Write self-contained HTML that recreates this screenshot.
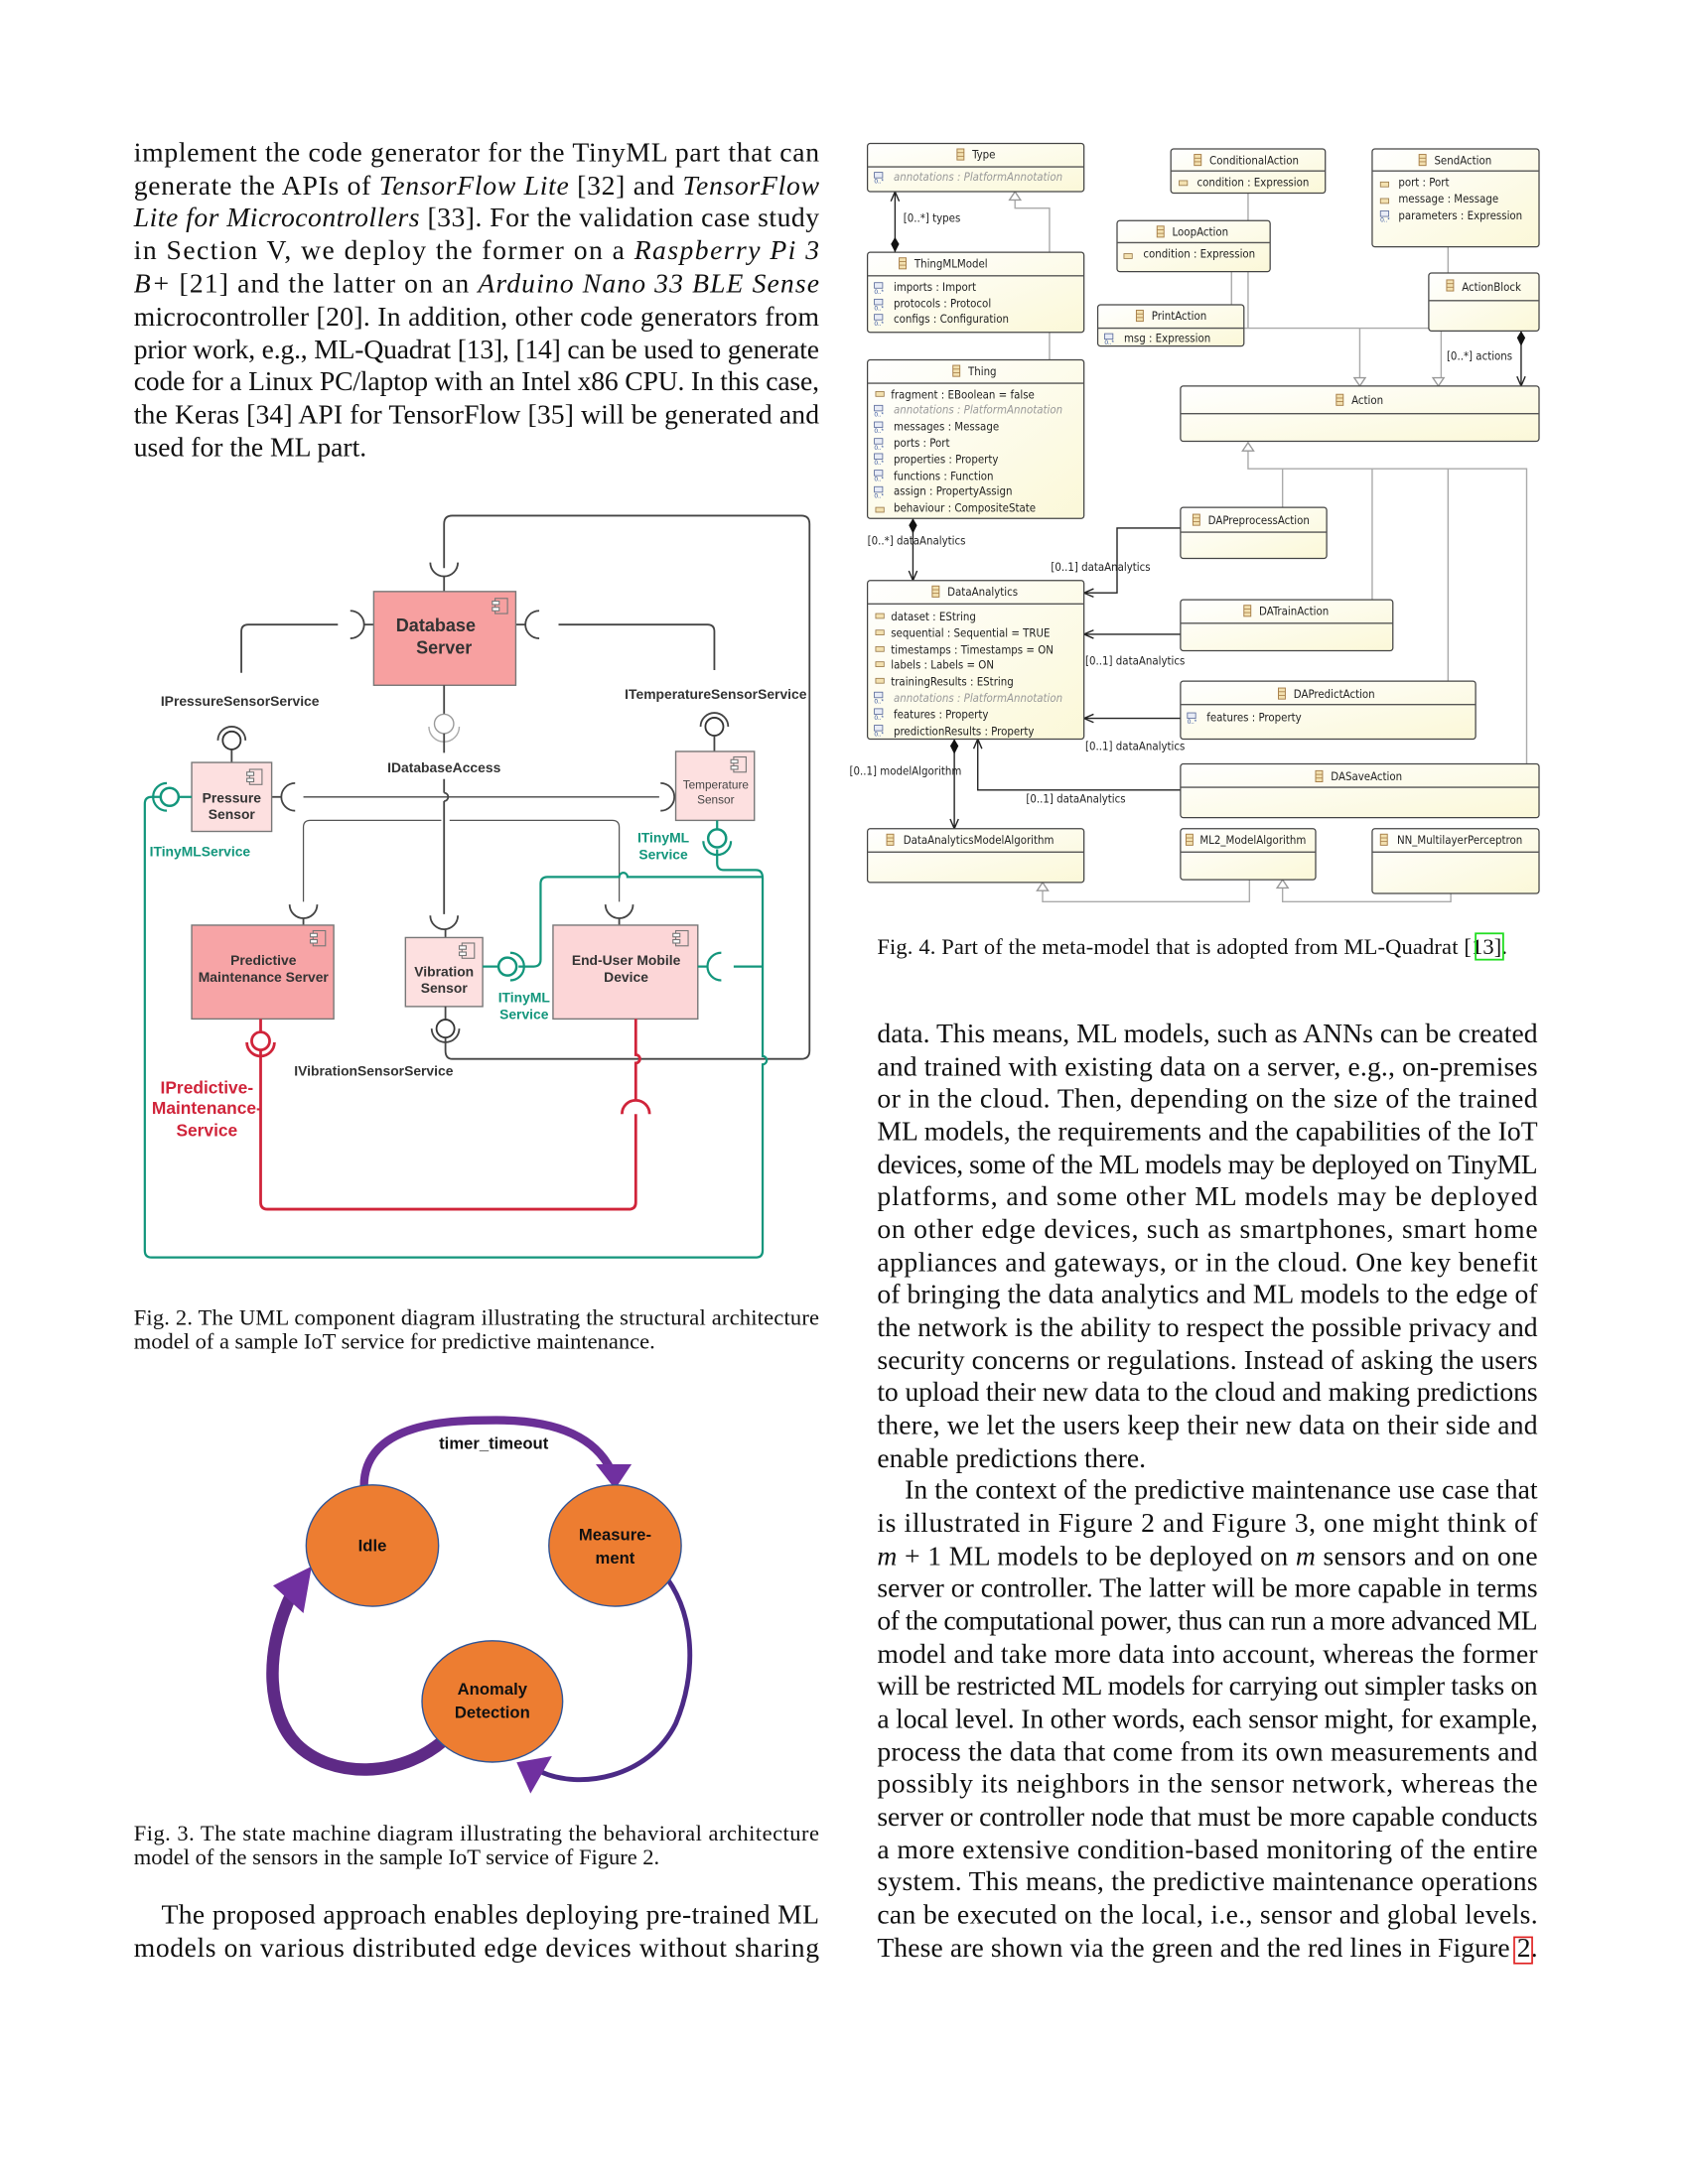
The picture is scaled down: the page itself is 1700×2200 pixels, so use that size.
<!DOCTYPE html>
<html><head><meta charset="utf-8"><style>
html,body{margin:0;padding:0;background:#fff}
svg{display:block}
.b{font-family:"Liberation Serif",serif;font-size:19.9px;fill:#111}
.c{font-family:"Liberation Serif",serif;font-size:16.2px;fill:#111}
.s{font-family:"Liberation Sans",sans-serif}
.cb{fill:url(#g);stroke:#444;stroke-width:0.9}
.ct{font-family:"DejaVu Sans Condensed","Liberation Sans",sans-serif;font-size:8.2px;fill:#222}
.it{font-style:italic;fill:#999}
.gl{stroke:#aaa;stroke-width:1;fill:none}
.bl{stroke:#222;stroke-width:1;fill:none}
.k{stroke:#444;stroke-width:1.3;fill:none}
.t{stroke:#13967c;stroke-width:1.6;fill:none}
.r{stroke:#d0243a;stroke-width:2;fill:none}
.lab{font-family:"Liberation Sans",sans-serif;font-weight:bold;font-size:10px;fill:#333}
.tl{font-family:"Liberation Sans",sans-serif;font-weight:bold;font-size:10px;fill:#13967c}
</style></head><body>
<svg width="1700" height="2200" viewBox="0 0 1224 1584" xmlns="http://www.w3.org/2000/svg">
<defs>
<linearGradient id="g" x1="0" y1="0" x2="1" y2="1"><stop offset="0" stop-color="#ffffff"/><stop offset="1" stop-color="#fbf8d8"/></linearGradient>
<g id="ic"><rect x="0" y="0" width="5" height="8" fill="#f3e1b0" stroke="#a8804a" stroke-width="0.7"/><line x1="0" y1="2.7" x2="5" y2="2.7" stroke="#a8804a" stroke-width="0.6"/><line x1="0" y1="5.3" x2="5" y2="5.3" stroke="#a8804a" stroke-width="0.6"/></g>
<g id="cp"><rect x="2" y="0" width="9" height="11" fill="none" stroke="#777" stroke-width="0.8"/><rect x="0" y="2" width="5" height="2.5" fill="#fff" stroke="#777" stroke-width="0.8"/><rect x="0" y="6.5" width="5" height="2.5" fill="#fff" stroke="#777" stroke-width="0.8"/></g>
<g id="at"><rect x="0" y="-5" width="6" height="3.5" fill="#f3e1b0" stroke="#9a7a4a" stroke-width="0.6"/></g>
<g id="am"><rect x="0" y="-7" width="6" height="4" fill="#e8ecf6" stroke="#5a6a9a" stroke-width="0.6"/><text x="0" y="1" font-size="4.5" fill="#2a4a9a" font-family="Liberation Sans">0..*</text></g>
</defs>

<!-- LEFT COLUMN TEXT -->
<g class="b">
<text x="97" y="117" textLength="497" lengthAdjust="spacing">implement the code generator for the TinyML part that can</text>
<text x="97" y="141" textLength="497" lengthAdjust="spacing">generate the APIs of <tspan font-style="italic">TensorFlow Lite</tspan> [32] and <tspan font-style="italic">TensorFlow</tspan></text>
<text x="97" y="164" textLength="497" lengthAdjust="spacing"><tspan font-style="italic">Lite for Microcontrollers</tspan> [33]. For the validation case study</text>
<text x="97" y="188" textLength="497" lengthAdjust="spacing">in Section V, we deploy the former on a <tspan font-style="italic">Raspberry Pi 3</tspan></text>
<text x="97" y="212" textLength="497" lengthAdjust="spacing"><tspan font-style="italic">B+</tspan> [21] and the latter on an <tspan font-style="italic">Arduino Nano 33 BLE Sense</tspan></text>
<text x="97" y="236" textLength="497" lengthAdjust="spacing">microcontroller [20]. In addition, other code generators from</text>
<text x="97" y="260" textLength="497" lengthAdjust="spacing">prior work, e.g., ML-Quadrat [13], [14] can be used to generate</text>
<text x="97" y="283" textLength="497" lengthAdjust="spacing">code for a Linux PC/laptop with an Intel x86 CPU. In this case,</text>
<text x="97" y="307" textLength="497" lengthAdjust="spacing">the Keras [34] API for TensorFlow [35] will be generated and</text>
<text x="97" y="331">used for the ML part.</text>
<text x="117" y="1395" textLength="477" lengthAdjust="spacing">The proposed approach enables deploying pre-trained ML</text>
<text x="97" y="1419" textLength="497" lengthAdjust="spacing">models on various distributed edge devices without sharing</text>
</g>
<g class="c">
<text x="97" y="961" textLength="497" lengthAdjust="spacing">Fig. 2.   The UML component diagram illustrating the structural architecture</text>
<text x="97" y="978">model of a sample IoT service for predictive maintenance.</text>
<text x="97" y="1335" textLength="497" lengthAdjust="spacing">Fig. 3.   The state machine diagram illustrating the behavioral architecture</text>
<text x="97" y="1352">model of the sensors in the sample IoT service of Figure 2.</text>
<text x="636" y="692" textLength="457" lengthAdjust="spacing">Fig. 4.   Part of the meta-model that is adopted from ML-Quadrat [13].</text>
</g>
<rect x="1070" y="677" width="20" height="19" fill="none" stroke="#22dd22" stroke-width="1.3"/>

<!-- RIGHT COLUMN TEXT -->
<g class="b">
<text x="636" y="756" textLength="479" lengthAdjust="spacing">data. This means, ML models, such as ANNs can be created</text>
<text x="636" y="780" textLength="479" lengthAdjust="spacing">and trained with existing data on a server, e.g., on-premises</text>
<text x="636" y="803" textLength="479" lengthAdjust="spacing">or in the cloud. Then, depending on the size of the trained</text>
<text x="636" y="827" textLength="479" lengthAdjust="spacing">ML models, the requirements and the capabilities of the IoT</text>
<text x="636" y="851" textLength="479" lengthAdjust="spacing">devices, some of the ML models may be deployed on TinyML</text>
<text x="636" y="874" textLength="479" lengthAdjust="spacing">platforms, and some other ML models may be deployed</text>
<text x="636" y="898" textLength="479" lengthAdjust="spacing">on other edge devices, such as smartphones, smart home</text>
<text x="636" y="922" textLength="479" lengthAdjust="spacing">appliances and gateways, or in the cloud. One key benefit</text>
<text x="636" y="945" textLength="479" lengthAdjust="spacing">of bringing the data analytics and ML models to the edge of</text>
<text x="636" y="969" textLength="479" lengthAdjust="spacing">the network is the ability to respect the possible privacy and</text>
<text x="636" y="993" textLength="479" lengthAdjust="spacing">security concerns or regulations. Instead of asking the users</text>
<text x="636" y="1016" textLength="479" lengthAdjust="spacing">to upload their new data to the cloud and making predictions</text>
<text x="636" y="1040" textLength="479" lengthAdjust="spacing">there, we let the users keep their new data on their side and</text>
<text x="636" y="1064">enable predictions there.</text>
<text x="656" y="1087" textLength="459" lengthAdjust="spacing">In the context of the predictive maintenance use case that</text>
<text x="636" y="1111" textLength="479" lengthAdjust="spacing">is illustrated in Figure 2 and Figure 3, one might think of</text>
<text x="636" y="1135" textLength="479" lengthAdjust="spacing"><tspan font-style="italic">m</tspan> + 1 ML models to be deployed on <tspan font-style="italic">m</tspan> sensors and on one</text>
<text x="636" y="1158" textLength="479" lengthAdjust="spacing">server or controller. The latter will be more capable in terms</text>
<text x="636" y="1182" textLength="479" lengthAdjust="spacing">of the computational power, thus can run a more advanced ML</text>
<text x="636" y="1206" textLength="479" lengthAdjust="spacing">model and take more data into account, whereas the former</text>
<text x="636" y="1229" textLength="479" lengthAdjust="spacing">will be restricted ML models for carrying out simpler tasks on</text>
<text x="636" y="1253" textLength="479" lengthAdjust="spacing">a local level. In other words, each sensor might, for example,</text>
<text x="636" y="1277" textLength="479" lengthAdjust="spacing">process the data that come from its own measurements and</text>
<text x="636" y="1300" textLength="479" lengthAdjust="spacing">possibly its neighbors in the sensor network, whereas the</text>
<text x="636" y="1324" textLength="479" lengthAdjust="spacing">server or controller node that must be more capable conducts</text>
<text x="636" y="1348" textLength="479" lengthAdjust="spacing">a more extensive condition-based monitoring of the entire</text>
<text x="636" y="1371" textLength="479" lengthAdjust="spacing">system. This means, the predictive maintenance operations</text>
<text x="636" y="1395" textLength="479" lengthAdjust="spacing">can be executed on the local, i.e., sensor and global levels.</text>
<text x="636" y="1419" textLength="479" lengthAdjust="spacing">These are shown via the green and the red lines in Figure 2.</text>
</g>
<rect x="1098" y="1405" width="13" height="19" fill="none" stroke="#e02020" stroke-width="1.2"/>

<!-- FIG 2 -->
<path class="k" d="M322,412 V380 Q322,374 328,374 H581 Q587,374 587,380 V762 Q587,768 581,768 H328 Q323,768 323,762 V753"/>
<path class="k" d="M312,408 A10,10 0 0 0 332,408"/>
<line class="k" x1="322" y1="418" x2="322" y2="429"/>
<path class="k" d="M245,453 H180 Q175,453 175,458 V488"/>
<path class="k" d="M254,443 A10,10 0 0 1 254,463"/><line class="k" x1="264" y1="453" x2="271" y2="453"/>
<path class="k" d="M405,453 H513 Q518,453 518,458 V486"/>
<path class="k" d="M391,443 A10,10 0 0 0 391,463"/><line class="k" x1="374" y1="453" x2="381" y2="453"/>
<rect x="271" y="429" width="103" height="68" fill="#f7a0a0" stroke="#777" stroke-width="1"/>
<use href="#cp" x="357" y="434"/>
<text class="s" x="316" y="458" font-size="13" font-weight="bold" fill="#333" text-anchor="middle">Database</text>
<text class="s" x="322" y="474" font-size="13" font-weight="bold" fill="#333" text-anchor="middle">Server</text>
<line class="k" x1="322" y1="497" x2="322" y2="518"/>
<circle cx="322" cy="525" r="7" fill="#fff" stroke="#999" stroke-width="1"/>
<path d="M311,527 A11,11 0 0 0 333,527" fill="none" stroke="#aaa" stroke-width="1"/>
<line class="k" x1="322" y1="532" x2="322" y2="546"/>
<text class="lab" x="322" y="560" text-anchor="middle">IDatabaseAccess</text>
<line class="k" x1="322" y1="565" x2="322" y2="575"/>
<path class="k" d="M322,575 A3,3 0 0 1 322,581"/>
<line class="k" x1="322" y1="581" x2="322" y2="663"/>
<path class="k" d="M312,664 A10,10 0 0 0 332,664"/><line class="k" x1="323" y1="674" x2="323" y2="680"/>
<line stroke="#444" stroke-width="1" x1="220" y1="578" x2="478" y2="578"/>
<path class="k" d="M214,568 A10,10 0 0 0 214,588"/><line class="k" x1="197" y1="578" x2="204" y2="578"/>
<path class="k" d="M479,568 A10,10 0 0 1 479,588"/><line class="k" x1="489" y1="578" x2="490" y2="578"/>
<path stroke="#555" stroke-width="0.9" fill="none" d="M220,654 V600 Q220,595 225,595 H320 M326,595 H444 Q449,595 449,600 V654"/>
<path class="k" d="M210,656 A10,10 0 0 0 230,656"/><line class="k" x1="220" y1="666" x2="220" y2="671"/>
<path class="k" d="M439,656 A10,10 0 0 0 459,656"/><line class="k" x1="449" y1="666" x2="449" y2="671"/>
<text class="lab" x="174" y="512" text-anchor="middle">IPressureSensorService</text>
<text class="lab" x="519" y="507" text-anchor="middle">ITemperatureSensorService</text>
<line class="k" x1="168" y1="544" x2="168" y2="553"/>
<circle cx="168" cy="537" r="6.5" fill="#fff" stroke="#333" stroke-width="1.3"/>
<path class="k" d="M158,537 A10,10 0 0 1 178,537"/>
<line class="k" x1="518" y1="534" x2="518" y2="545"/>
<circle cx="518" cy="527" r="6.5" fill="#fff" stroke="#333" stroke-width="1.3"/>
<path class="k" d="M508,527 A10,10 0 0 1 528,527"/>
<rect x="139" y="553" width="58" height="50" fill="#fde0e0" stroke="#777" stroke-width="1"/>
<use href="#cp" x="179" y="558"/>
<text class="s" x="168" y="582" font-size="10" font-weight="bold" fill="#333" text-anchor="middle">Pressure</text>
<text class="s" x="168" y="594" font-size="10" font-weight="bold" fill="#333" text-anchor="middle">Sensor</text>
<rect x="490" y="545" width="57" height="50" fill="#fde0e0" stroke="#777" stroke-width="1"/>
<use href="#cp" x="530" y="549"/>
<text class="s" x="519" y="572" font-size="8.5" fill="#444" text-anchor="middle">Temperature</text>
<text class="s" x="519" y="583" font-size="8.5" fill="#444" text-anchor="middle">Sensor</text>
<rect x="139" y="671" width="103" height="68" fill="#f7a4a6" stroke="#777" stroke-width="1"/>
<use href="#cp" x="225" y="675"/>
<text class="s" x="191" y="700" font-size="10" font-weight="bold" fill="#333" text-anchor="middle">Predictive</text>
<text class="s" x="191" y="712" font-size="10" font-weight="bold" fill="#333" text-anchor="middle">Maintenance Server</text>
<rect x="294" y="680" width="56" height="50" fill="#fde0e0" stroke="#777" stroke-width="1"/>
<use href="#cp" x="333" y="684"/>
<text class="s" x="322" y="708" font-size="10" font-weight="bold" fill="#333" text-anchor="middle">Vibration</text>
<text class="s" x="322" y="720" font-size="10" font-weight="bold" fill="#333" text-anchor="middle">Sensor</text>
<rect x="401" y="671" width="105" height="68" fill="#fcd6d7" stroke="#777" stroke-width="1"/>
<use href="#cp" x="488" y="675"/>
<text class="s" x="454" y="700" font-size="10" font-weight="bold" fill="#333" text-anchor="middle">End-User Mobile</text>
<text class="s" x="454" y="712" font-size="10" font-weight="bold" fill="#333" text-anchor="middle">Device</text>
<line class="k" x1="323" y1="730" x2="323" y2="739"/>
<circle cx="323" cy="746" r="6.5" fill="#fff" stroke="#333" stroke-width="1.3"/>
<path class="k" d="M313,746 A10,10 0 0 0 333,746"/>
<text class="lab" x="271" y="780" text-anchor="middle">IVibrationSensorService</text>
<path class="t" d="M116,578 H110 Q105,578 105,583 V907 Q105,912 110,912 H548 Q553,912 553,907 V772 A3,3 0 0 0 553,766 V637 Q553,631 548,631 H525 Q520,631 520,626 V616"/>
<circle cx="520" cy="608" r="6.5" fill="#fff" stroke="#13967c" stroke-width="1.8"/>
<path class="t" d="M510,610 A10,10 0 0 0 530,610"/>
<line class="t" x1="520" y1="595" x2="520" y2="601"/>
<circle cx="123" cy="578" r="6.5" fill="#fff" stroke="#13967c" stroke-width="1.8"/>
<path class="t" d="M121,568 A10,10 0 0 0 121,588"/>
<line class="t" x1="130" y1="578" x2="139" y2="578"/>
<path class="t" d="M553,636 H455 A3,3 0 0 0 449,636 H397 Q392,636 392,641 V696 Q392,701 387,701 H376"/>
<circle cx="368" cy="701" r="6.5" fill="#fff" stroke="#13967c" stroke-width="1.8"/>
<path class="t" d="M370,691 A10,10 0 0 1 370,711"/>
<line class="t" x1="350" y1="701" x2="361" y2="701"/>
<path class="t" d="M523,691 A10,10 0 0 0 523,711"/>
<line class="t" x1="506" y1="701" x2="513" y2="701"/>
<line class="t" x1="532" y1="701" x2="553" y2="701"/>
<text class="tl" x="145" y="621" text-anchor="middle">ITinyMLService</text>
<text class="tl" x="481" y="611" text-anchor="middle">ITinyML</text>
<text class="tl" x="481" y="623" text-anchor="middle">Service</text>
<text class="tl" x="380" y="727" text-anchor="middle">ITinyML</text>
<text class="tl" x="380" y="739" text-anchor="middle">Service</text>
<line class="r" x1="189" y1="739" x2="189" y2="748"/>
<circle cx="189" cy="755" r="6.5" fill="#fff" stroke="#d0243a" stroke-width="2"/>
<path class="r" d="M179,756 A10,10 0 0 0 199,756"/>
<path class="r" d="M189,762 V872 Q189,877 194,877 H456 Q461,877 461,872 V808"/>
<path class="r" d="M451,808 A10,10 0 0 1 471,808"/>
<path class="r" d="M461,739 V765 A3,3 0 0 1 461,771 V798"/>
<g font-family="Liberation Sans,sans-serif" font-weight="bold" font-size="12.5" fill="#d0243a" text-anchor="middle">
<text x="150" y="793">IPredictive-</text><text x="150" y="808">Maintenance-</text><text x="150" y="824">Service</text></g>

<!-- FIG 3 -->
<path d="M264,1080 C262,1030 330,1030 360,1030 C400,1030 430,1040 443,1066" fill="none" stroke="#6a2f96" stroke-width="6"/>
<polygon points="432,1062 458,1062 446,1080" fill="#7030a0"/>
<path d="M480,1140 C505,1170 505,1215 490,1250 C470,1290 420,1298 392,1285" fill="none" stroke="#4b2a86" stroke-width="3.5"/>
<polygon points="376,1276 402,1276 382,1300" fill="#7030a0" transform="rotate(-10 388 1285)"/>
<path d="M322,1262 C290,1290 240,1290 215,1265 C195,1245 190,1200 212,1155" fill="none" stroke="#5e2a86" stroke-width="9"/>
<polygon points="226,1136 198,1150 220,1170" fill="#7030a0"/>
<g stroke="#2f5597" stroke-width="1" fill="#ed7d31">
<ellipse cx="270" cy="1121" rx="48" ry="44"/>
<ellipse cx="446" cy="1121" rx="48" ry="44"/>
<ellipse cx="357" cy="1234" rx="51" ry="44"/>
</g>
<g font-family="Liberation Sans,sans-serif" font-weight="bold" font-size="12" fill="#111" text-anchor="middle">
<text x="358" y="1051">timer_timeout</text>
<text x="270" y="1125">Idle</text>
<text x="446" y="1117">Measure-</text><text x="446" y="1134">ment</text>
<text x="357" y="1229">Anomaly</text><text x="357" y="1246">Detection</text>
</g>

<!-- FIG 4 connectors -->
<g>
<path class="bl" d="M649,139 V183"/><path class="bl" d="M646,146 L649,139 L652,146"/>
<polygon points="649,172 652,177 649,183 646,177" fill="#111"/>
<text class="ct" x="655" y="161">[0..*] types</text>
<path class="gl" d="M761,261 V151 H736 V145"/><polygon points="732,145 740,145 736,139" fill="#fff" stroke="#999"/>
<path class="gl" d="M905,140 V238 M1050,179 V238 M893,197 V238 M902,238 H1050 M986,238 V274 M1045,240 V274"/>
<polygon points="982,274 990,274 986,280" fill="#fff" stroke="#999"/>
<polygon points="1039,274 1047,274 1043,280" fill="#fff" stroke="#999"/>
<path class="bl" d="M1103,240 V280"/><polygon points="1103,240 1106,245 1103,251 1100,245" fill="#111"/>
<path class="bl" d="M1100,273 L1103,280 L1106,273"/>
<text class="ct" x="1049" y="261">[0..*] actions</text>
<path class="gl" d="M905,326 V340 H1107 V554 M930,340 V368 M995,340 V435 M1050,340 V494"/>
<polygon points="901,327 909,327 905,321" fill="#fff" stroke="#999"/>
<path class="bl" d="M662,376 V421"/><polygon points="662,376 665,381 662,387 659,381" fill="#111"/>
<path class="bl" d="M659,414 L662,421 L665,414"/>
<text class="ct" x="629" y="395">[0..*] dataAnalytics</text>
<path class="bl" d="M856,383 H810 V430 H786 M793,427 L786,430 L793,433"/>
<text class="ct" x="762" y="414">[0..1] dataAnalytics</text>
<path class="bl" d="M856,460 H786 M793,457 L786,460 L793,463"/>
<text class="ct" x="787" y="482">[0..1] dataAnalytics</text>
<path class="bl" d="M856,521 H786 M793,518 L786,521 L793,524"/>
<text class="ct" x="787" y="544">[0..1] dataAnalytics</text>
<path class="bl" d="M856,573 H709 V536 M706,543 L709,536 L712,543"/>
<text class="ct" x="744" y="582">[0..1] dataAnalytics</text>
<path class="bl" d="M692,536 V601 M689,594 L692,601 L695,594"/><polygon points="692,536 695,541 692,547 689,541" fill="#111"/>
<text class="ct" x="616" y="562">[0..1] modelAlgorithm</text>
<path class="gl" d="M906,638 V654 H756 V646 M1052,648 V654 H930 V644"/>
<polygon points="752,646 760,646 756,640" fill="#fff" stroke="#999"/>
<polygon points="926,644 934,644 930,638" fill="#fff" stroke="#999"/>
</g>

<!-- FIG 4 boxes -->
<g class="ct">
<rect class="cb" x="629" y="104" width="157" height="35" rx="2"/><line x1="629" y1="121" x2="786" y2="121" stroke="#555"/>
<use href="#ic" x="694" y="108"/><text x="705" y="115">Type</text>
<use href="#am" x="634" y="132"/><text class="it" x="648" y="131">annotations : PlatformAnnotation</text>

<rect class="cb" x="849" y="108" width="112" height="32" rx="2"/><line x1="849" y1="124" x2="961" y2="124" stroke="#555"/>
<use href="#ic" x="866" y="112"/><text x="877" y="119">ConditionalAction</text>
<use href="#at" x="855" y="136"/><text x="868" y="135">condition : Expression</text>

<rect class="cb" x="995" y="108" width="121" height="71" rx="2"/><line x1="995" y1="124" x2="1116" y2="124" stroke="#555"/>
<use href="#ic" x="1029" y="112"/><text x="1040" y="119">SendAction</text>
<use href="#at" x="1001" y="137"/><text x="1014" y="135">port : Port</text>
<use href="#at" x="1001" y="149"/><text x="1014" y="147">message : Message</text>
<use href="#am" x="1001" y="160"/><text x="1014" y="159">parameters : Expression</text>

<rect class="cb" x="810" y="160" width="111" height="37" rx="2"/><line x1="810" y1="176" x2="921" y2="176" stroke="#555"/>
<use href="#ic" x="839" y="164"/><text x="850" y="171">LoopAction</text>
<use href="#at" x="815" y="189"/><text x="829" y="187">condition : Expression</text>

<rect class="cb" x="629" y="183" width="157" height="58" rx="2"/><line x1="629" y1="200" x2="786" y2="200" stroke="#555"/>
<use href="#ic" x="652" y="187"/><text x="663" y="194">ThingMLModel</text>
<use href="#am" x="634" y="212"/><text x="648" y="211">imports : Import</text>
<use href="#am" x="634" y="224"/><text x="648" y="223">protocols : Protocol</text>
<use href="#am" x="634" y="235"/><text x="648" y="234">configs : Configuration</text>

<rect class="cb" x="796" y="221" width="106" height="30" rx="2"/><line x1="796" y1="238" x2="902" y2="238" stroke="#555"/>
<use href="#ic" x="824" y="225"/><text x="835" y="232">PrintAction</text>
<use href="#am" x="801" y="249"/><text x="815" y="248">msg : Expression</text>

<rect class="cb" x="1036" y="198" width="80" height="42" rx="2"/><line x1="1036" y1="218" x2="1116" y2="218" stroke="#555"/>
<use href="#ic" x="1049" y="203"/><text x="1060" y="211">ActionBlock</text>

<rect class="cb" x="629" y="261" width="157" height="115" rx="2"/><line x1="629" y1="278" x2="786" y2="278" stroke="#555"/>
<use href="#ic" x="691" y="265"/><text x="702" y="272">Thing</text>
<rect x="635" y="284" width="6" height="3.5" fill="#f3e1b0" stroke="#9a7a4a" stroke-width="0.6"/><text x="646" y="289">fragment : EBoolean = false</text>
<use href="#am" x="634" y="301"/><text class="it" x="648" y="300">annotations : PlatformAnnotation</text>
<use href="#am" x="634" y="313"/><text x="648" y="312">messages : Message</text>
<use href="#am" x="634" y="325"/><text x="648" y="324">ports : Port</text>
<use href="#am" x="634" y="336"/><text x="648" y="336">properties : Property</text>
<use href="#am" x="634" y="348"/><text x="648" y="348">functions : Function</text>
<use href="#am" x="634" y="360"/><text x="648" y="359">assign : PropertyAssign</text>
<use href="#at" x="635" y="373"/><text x="648" y="371">behaviour : CompositeState</text>

<rect class="cb" x="856" y="280" width="260" height="40" rx="2"/><line x1="856" y1="300" x2="1116" y2="300" stroke="#555"/>
<use href="#ic" x="969" y="286"/><text x="980" y="293">Action</text>

<rect class="cb" x="856" y="368" width="106" height="37" rx="2"/><line x1="856" y1="386" x2="962" y2="386" stroke="#555"/>
<use href="#ic" x="865" y="373"/><text x="876" y="380">DAPreprocessAction</text>

<rect class="cb" x="629" y="421" width="157" height="115" rx="2"/><line x1="629" y1="438" x2="786" y2="438" stroke="#555"/>
<use href="#ic" x="676" y="425"/><text x="687" y="432">DataAnalytics</text>
<rect x="635" y="445" width="6" height="3.5" fill="#f3e1b0" stroke="#9a7a4a" stroke-width="0.6"/><text x="646" y="450">dataset : EString</text>
<rect x="635" y="457" width="6" height="3.5" fill="#f3e1b0" stroke="#9a7a4a" stroke-width="0.6"/><text x="646" y="462">sequential : Sequential = TRUE</text>
<rect x="635" y="469" width="6" height="3.5" fill="#f3e1b0" stroke="#9a7a4a" stroke-width="0.6"/><text x="646" y="474">timestamps : Timestamps = ON</text>
<rect x="635" y="480" width="6" height="3.5" fill="#f3e1b0" stroke="#9a7a4a" stroke-width="0.6"/><text x="646" y="485">labels : Labels = ON</text>
<rect x="635" y="492" width="6" height="3.5" fill="#f3e1b0" stroke="#9a7a4a" stroke-width="0.6"/><text x="646" y="497">trainingResults : EString</text>
<use href="#am" x="634" y="509"/><text class="it" x="648" y="509">annotations : PlatformAnnotation</text>
<use href="#am" x="634" y="521"/><text x="648" y="521">features : Property</text>
<use href="#am" x="634" y="533"/><text x="648" y="533">predictionResults : Property</text>

<rect class="cb" x="856" y="435" width="154" height="37" rx="2"/><line x1="856" y1="452" x2="1010" y2="452" stroke="#555"/>
<use href="#ic" x="902" y="439"/><text x="913" y="446">DATrainAction</text>

<rect class="cb" x="856" y="494" width="214" height="42" rx="2"/><line x1="856" y1="511" x2="1070" y2="511" stroke="#555"/>
<use href="#ic" x="927" y="499"/><text x="938" y="506">DAPredictAction</text>
<use href="#am" x="861" y="524"/><text x="875" y="523">features : Property</text>

<rect class="cb" x="856" y="554" width="260" height="39" rx="2"/><line x1="856" y1="571" x2="1116" y2="571" stroke="#555"/>
<use href="#ic" x="954" y="559"/><text x="965" y="566">DASaveAction</text>

<rect class="cb" x="629" y="601" width="157" height="39" rx="2"/><line x1="629" y1="618" x2="786" y2="618" stroke="#555"/>
<use href="#ic" x="643" y="605"/><text x="655" y="612">DataAnalyticsModelAlgorithm</text>

<rect class="cb" x="856" y="601" width="98" height="37" rx="2"/><line x1="856" y1="618" x2="954" y2="618" stroke="#555"/>
<use href="#ic" x="860" y="605"/><text x="870" y="612">ML2_ModelAlgorithm</text>

<rect class="cb" x="995" y="601" width="121" height="47" rx="2"/><line x1="995" y1="618" x2="1116" y2="618" stroke="#555"/>
<use href="#ic" x="1001" y="605"/><text x="1013" y="612">NN_MultilayerPerceptron</text>
</g>
</svg>
</body></html>
